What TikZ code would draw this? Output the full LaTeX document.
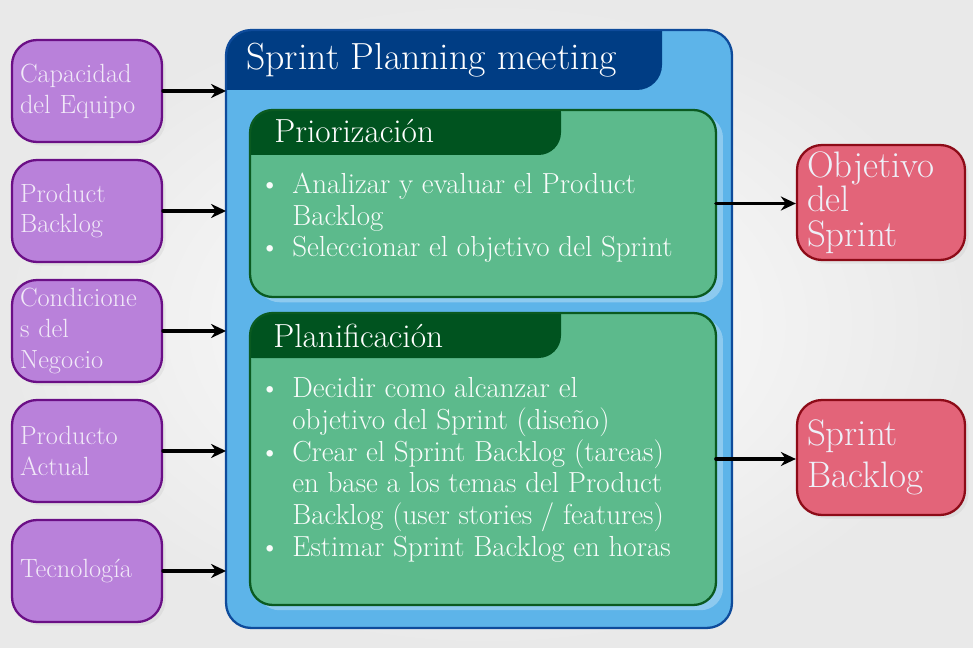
\documentclass[tikz,border=0pt]{standalone}
\usetikzlibrary{arrows.meta,shadows}
\definecolor{PlanPaper}{HTML}{E9E9E9}
\definecolor{InputFill}{HTML}{B981DA}
\definecolor{InputEdge}{HTML}{6B0F86}
\definecolor{InputText}{HTML}{F1E9F8}
\definecolor{MeetingFill}{HTML}{5DB4E9}
\definecolor{MeetingEdge}{HTML}{0E4B9B}
\definecolor{MeetingTab}{HTML}{003D84}
\definecolor{PhaseFill}{HTML}{5CBA8C}
\definecolor{PhaseEdge}{HTML}{0A5A20}
\definecolor{PhaseTab}{HTML}{00531F}
\definecolor{OutputFill}{HTML}{E36479}
\definecolor{OutputEdge}{HTML}{8D0B18}
\definecolor{OutputText}{HTML}{EEF0F8}
\newcommand\planbullet{\makebox[0.66cm][l]{\textbullet}}
\newcommand\planindent{\hspace*{0.66cm}}
\tikzset{
    plan/diagram/.style={
        x=0.02cm, y=-0.02cm,
        line cap=round,
        line join=round,
        >=Stealth
    },
    plan/input/.style={
        draw=InputEdge, fill=InputFill, line width=1.3pt,
        rounded corners=0.5cm, minimum width=3cm, minimum height=2.04cm,
        text width=2.68cm, inner xsep=0.16cm, align=left,
        text=InputText, font=\fontsize{15}{17.5}\selectfont,
        drop shadow={opacity=0.1, shadow xshift=2pt, shadow yshift=-2pt}
    },
    plan/output/.style={
        draw=OutputEdge, fill=OutputFill, line width=1.3pt,
        rounded corners=0.5cm, minimum width=3.36cm, minimum height=2.3cm,
        text width=2.96cm, inner xsep=0.2cm, align=left,
        text=OutputText,
        drop shadow={opacity=0.1, shadow xshift=2pt, shadow yshift=-2pt}
    },
    plan/frame/.style={
        rectangle, rounded corners=0.5cm, inner sep=0pt, outer sep=0pt
    },
    plan/frameedge/.style={line width=1.3pt, rounded corners=0.5cm},
    plan/phase/.style={
        plan/frame, fill=PhaseFill, minimum width=9.32cm,
        rounded corners=0.45cm,
        drop shadow={fill=white, opacity=0.3, shadow xshift=4pt, shadow yshift=-3pt}
    },
    plan/heading/.style={anchor=base west, inner sep=0pt, text=white},
    plan/items/.style={
        anchor=base west, inner sep=0pt, align=left,
        text=white!96!PhaseFill, font=\fontsize{16.5}{18}\selectfont
    },
    plan/flow/.style={
        draw=black, line width=2pt,
        -{Stealth[length=3mm, width=2.8mm]}
    }
}
\begin{document}
\begin{tikzpicture}[plan/diagram]
    \useasboundingbox (0,0) rectangle (973,648);
    \shade[inner color=white, outer color=PlanPaper] (0,0) rectangle (973,648);

    % what goes into the meeting
    \node[plan/input] (capacity) at (87,91) {Capacidad\\del Equipo};
    \node[plan/input] (backlog) at (87,211) {Product\\Backlog};
    \node[plan/input] (business) at (87,331) {Condicione\\s del\\Negocio};
    \node[plan/input] (current) at (87,451) {Producto\\Actual};
    \node[plan/input] (technology) at (87,571) {Tecnología};

    % meeting frame with its title tab
    \node[plan/frame, fill=MeetingFill, minimum width=10.12cm,
        minimum height=11.96cm] (meeting) at (479,329) {};
    \begin{scope}
        \clip[rounded corners=0.5cm] (meeting.north west) rectangle (meeting.south east);
        \fill[MeetingTab, rounded corners=0.5cm] (200,0) rectangle (662,90);
    \end{scope}
    \draw[plan/frameedge, draw=MeetingEdge] (meeting.north west) rectangle (meeting.south east);
    \node[plan/heading, font=\fontsize{21.5}{25}\selectfont] (meetingTitle) at (246,70)
        {Sprint Planning meeting};

    % first phase
    \node[plan/phase, minimum height=3.74cm] (prioritising) at (483,203.5) {};
    \begin{scope}
        \clip[rounded corners=0.45cm] (prioritising.north west) rectangle (prioritising.south east);
        \fill[PhaseTab, rounded corners=0.45cm] (230,90) rectangle (561,155);
    \end{scope}
    \draw[plan/frameedge, rounded corners=0.45cm, draw=PhaseEdge]
        (prioritising.north west) rectangle (prioritising.south east);
    \node[plan/heading, font=\fontsize{19}{22}\selectfont] (prioritisingTitle) at (274,143)
        {Priorización};
    % base anchor sits on the last line
    \node[plan/items] (prioritisingItems) at (259,257)
        {\planbullet Analizar y evaluar el Product\\
         \planindent Backlog\\
         \planbullet Seleccionar el objetivo del Sprint};

    % second phase
    \node[plan/phase, minimum height=5.84cm] (planning) at (483,459) {};
    \begin{scope}
        \clip[rounded corners=0.45cm] (planning.north west) rectangle (planning.south east);
        \fill[PhaseTab, rounded corners=0.45cm] (230,290) rectangle (561,358);
    \end{scope}
    \draw[plan/frameedge, rounded corners=0.45cm, draw=PhaseEdge]
        (planning.north west) rectangle (planning.south east);
    \node[plan/heading, font=\fontsize{19}{22}\selectfont] (planningTitle) at (273,347)
        {Planificación};
    \node[plan/items] (planningItems) at (259,556)
        {\planbullet Decidir como alcanzar el\\
         \planindent objetivo del Sprint (diseño)\\
         \planbullet Crear el Sprint Backlog (tareas)\\
         \planindent en base a los temas del Product\\
         \planindent Backlog (user stories / features)\\
         \planbullet Estimar Sprint Backlog en horas};

    % what comes out
    \node[plan/output, font=\fontsize{21}{19.5}\selectfont] (goal) at (881,202.5)
        {Objetivo\\del\\Sprint};
    \node[plan/output, font=\fontsize{21}{23.5}\selectfont] (sprintBacklog) at (881,457.5)
        {Sprint\\Backlog};

    \draw[plan/flow] (capacity.east) -- (capacity.east -| meeting.west);
    \draw[plan/flow] (backlog.east) -- (backlog.east -| meeting.west);
    \draw[plan/flow] (business.east) -- (business.east -| meeting.west);
    \draw[plan/flow] (current.east) -- (current.east -| meeting.west);
    \draw[plan/flow] (technology.east) -- (technology.east -| meeting.west);
    \draw[plan/flow] (prioritising.east) -- (prioritising.east -| goal.west);
    \draw[plan/flow] (planning.east) -- (planning.east -| sprintBacklog.west);
\end{tikzpicture}
\end{document}
